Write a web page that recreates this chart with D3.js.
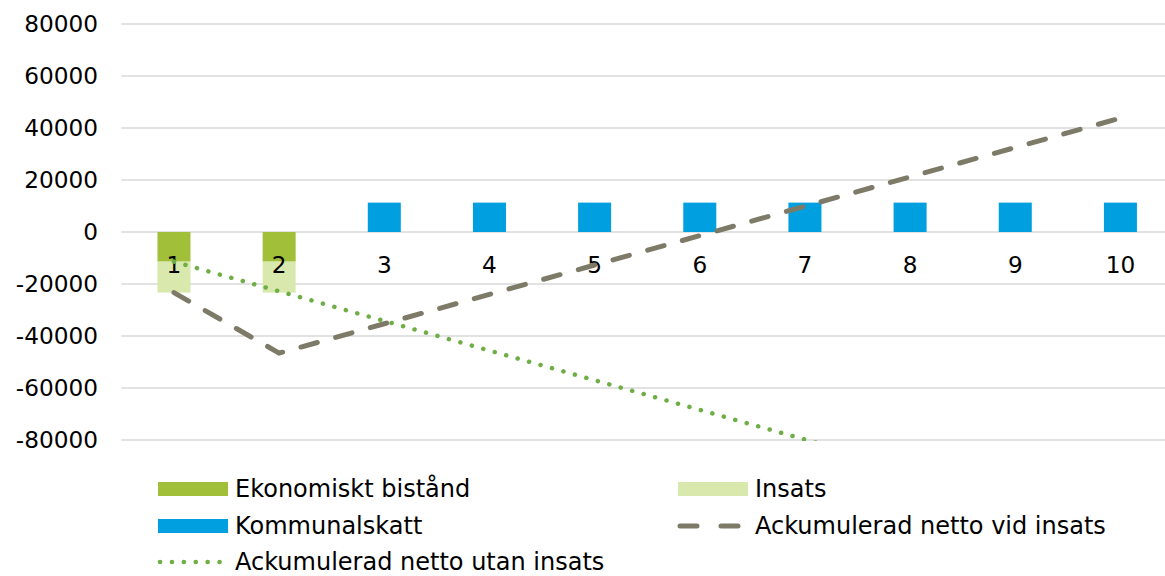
<!DOCTYPE html>
<html>
<head>
<meta charset="utf-8">
<script src="https://cdn.jsdelivr.net/npm/d3@7"></script>
<style>
  body { margin: 0; background: #fff; }
  svg { display: block; font-family: "DejaVu Sans", Verdana, sans-serif; }
</style>
</head>
<body>
<svg id="chart" width="1165" height="576"></svg>
<script>
// data
const years = ['1', '2', '3', '4', '5', '6', '7', '8', '9', '10'];
const ekonomisktBistand = [-11400, -11400, 0, 0, 0, 0, 0, 0, 0, 0];
const insats = [-11900, -11900, 0, 0, 0, 0, 0, 0, 0, 0];
const kommunalskatt = [0, 0, 11300, 11300, 11300, 11300, 11300, 11300, 11300, 11300];
const nettoVidInsats = [-23300, -46600, -35300, -24000, -12700, -1400, 9900, 21200, 32500, 43800];
const nettoUtanInsats = [-11400, -22800, -34200, -45600, -57000, -68400, -79800, -91200, -102600, -114000];
const yTicks = [80000, 60000, 40000, 20000, 0, -20000, -40000, -60000, -80000];

const colors = {
    eko: '#a1bf38',
    insats: '#d9e8ad',
    skatt: '#009fe0',
    vid: '#7d7b68',
    utan: '#6fae45'
};

const svg = d3.select('#chart');
const plotLeft = 121.4, plotRight = 1173, plotTop = 24, plotBottom = 440;

const x = d3.scaleBand().domain(years).range([plotLeft, plotRight])
    .paddingInner(0.686).paddingOuter(0.343);
const y = d3.scaleLinear().domain([-80000, 80000]).range([plotBottom, plotTop]);
const cx = (d) => x(d) + x.bandwidth() / 2;

// gridlines
svg.append('g')
    .selectAll('line')
    .data(yTicks)
    .join('line')
    .attr('x1', plotLeft).attr('x2', plotRight)
    .attr('y1', (d) => y(d)).attr('y2', (d) => y(d))
    .attr('stroke', '#d9d9d9')
    .attr('stroke-width', 1.5);

// y labels
svg.append('g')
    .selectAll('text')
    .data(yTicks)
    .join('text')
    .attr('x', 98)
    .attr('y', (d) => y(d))
    .attr('dy', '0.36em')
    .attr('text-anchor', 'end')
    .attr('font-size', 23.2)
    .attr('fill', '#000')
    .text((d) => d);

// bars
const bars = svg.append('g');
years.forEach((yr, i) => {
    const e = ekonomisktBistand[i], s = insats[i], k = kommunalskatt[i];
    if (e) bars.append('rect')
        .attr('x', x(yr)).attr('width', x.bandwidth())
        .attr('y', y(0)).attr('height', y(e) - y(0))
        .attr('fill', colors.eko);
    if (s) bars.append('rect')
        .attr('x', x(yr)).attr('width', x.bandwidth())
        .attr('y', y(e)).attr('height', y(e + s) - y(e))
        .attr('fill', colors.insats);
    if (k) bars.append('rect')
        .attr('x', x(yr)).attr('width', x.bandwidth())
        .attr('y', y(k)).attr('height', y(0) - y(k))
        .attr('fill', colors.skatt);
});

// category labels sit next to the zero line
svg.append('g')
    .selectAll('text')
    .data(years)
    .join('text')
    .attr('x', (d) => cx(d))
    .attr('y', 273)
    .attr('text-anchor', 'middle')
    .attr('font-size', 23.2)
    .attr('fill', '#000')
    .text((d) => d);

svg.append('clipPath').attr('id', 'plot-clip')
    .append('rect')
    .attr('x', plotLeft).attr('y', plotTop - 3)
    .attr('width', plotRight - plotLeft).attr('height', plotBottom - plotTop + 4);

const line = d3.line().x((d, i) => cx(years[i])).y((d) => y(d));

const lines = svg.append('g').attr('clip-path', 'url(#plot-clip)');
lines.append('path')
    .attr('d', line(nettoUtanInsats))
    .attr('fill', 'none')
    .attr('stroke', colors.utan)
    .attr('stroke-width', 4.5)
    .attr('stroke-linecap', 'round')
    .attr('stroke-dasharray', '0.1 11.8');
lines.append('path')
    .attr('d', line(nettoVidInsats))
    .attr('fill', 'none')
    .attr('stroke', colors.vid)
    .attr('stroke-width', 5)
    .attr('stroke-linecap', 'round')
    .attr('stroke-dasharray', '17 19');

// legend
const legendItems = [
    { label: 'Ekonomiskt bistånd', type: 'rect', color: colors.eko, x: 158, y: 489 },
    { label: 'Insats', type: 'rect', color: colors.insats, x: 678, y: 489 },
    { label: 'Kommunalskatt', type: 'rect', color: colors.skatt, x: 158, y: 526 },
    { label: 'Ackumulerad netto vid insats', type: 'dash', color: colors.vid, x: 678, y: 526 },
    { label: 'Ackumulerad netto utan insats', type: 'dot', color: colors.utan, x: 158, y: 562 }
];

const legend = svg.append('g');
legendItems.forEach((d) => {
    const g = legend.append('g');
    if (d.type === 'rect') {
        g.append('rect')
            .attr('x', d.x).attr('y', d.y - 7)
            .attr('width', 70).attr('height', 14)
            .attr('fill', d.color);
    } else if (d.type === 'dash') {
        g.append('line')
            .attr('x1', d.x + 2).attr('x2', d.x + 68)
            .attr('y1', d.y).attr('y2', d.y)
            .attr('stroke', d.color).attr('stroke-width', 5)
            .attr('stroke-linecap', 'round')
            .attr('stroke-dasharray', '17 24');
    } else {
        g.append('line')
            .attr('x1', d.x + 2).attr('x2', d.x + 70)
            .attr('y1', d.y).attr('y2', d.y)
            .attr('stroke', d.color).attr('stroke-width', 4.5)
            .attr('stroke-linecap', 'round')
            .attr('stroke-dasharray', '0.1 11.8');
    }
    g.append('text')
        .attr('x', d.x + 77)
        .attr('y', d.y)
        .attr('dy', '0.34em')
        .attr('font-size', 24)
        .attr('fill', '#000')
        .text(d.label);
});
</script>
</body>
</html>
